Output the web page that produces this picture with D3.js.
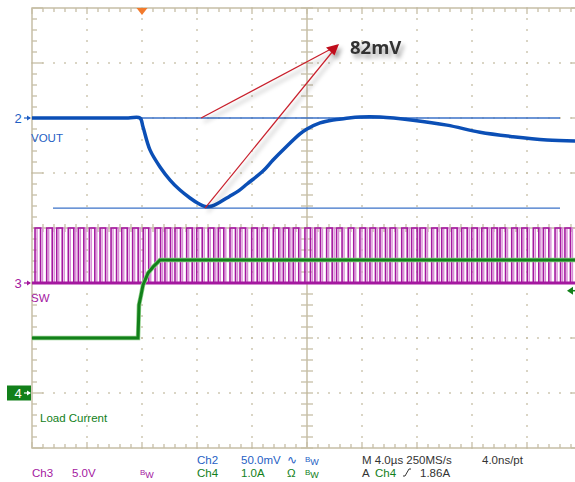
<!DOCTYPE html>
<html>
<head>
<meta charset="utf-8">
<script src="https://cdn.jsdelivr.net/npm/d3@7"></script>
<style>
  body { margin: 0; background: #fff; }
  svg { display: block; font-family: "Liberation Sans", Arial, sans-serif; }
</style>
</head>
<body>
<svg id="scope" width="575" height="482"></svg>
<script>
// time in us relative to trigger, 4 us/div
var voutT  = [-8, -4, -1, -0.15, 0.07, 0.58, 1.31, 2.04, 2.76, 3.49, 4.07, 4.58, 5.09, 5.6, 6.33, 7.05, 7.64, 8.8, 9.53, 10.4, 11.49, 12.0, 12.95, 13.89, 14.76, 15.85, 17.31, 19.71, 22.18, 24.58, 26.98, 29.45, 31.5];
var voutMv = [0, 0, 0, 0, -8, -29, -44.5, -56.4, -65.5, -72.7, -77.5, -80.5, -80, -77, -71.5, -66, -60, -48.2, -38.2, -27.3, -14.5, -10, -4.5, -1.8, -0.5, 0.9, 0.9, -2, -6.5, -13, -17, -20, -21];

var loadT = [-8, -0.29, -0.25, -0.22, -0.07, 0.07, 0.44, 0.8, 1.31, 31.5];
var loadA = [1.0, 1.0, 1.33, 1.6, 1.78, 1.96, 2.18, 2.29, 2.42, 2.42];

// switch node rising edges (us), on-time and levels
var swRise = [-7.78, -6.93, -6.2, -5.36, -4.63, -3.83, -3.05, -2.25, -1.47, -0.68, 0.09, 0.95, 1.67, 2.4, 3.25, 3.98, 4.82, 5.55, 6.4, 7.13, 7.98, 8.71, 9.55, 10.28, 11.0, 11.85, 12.58, 13.43, 14.15, 15.0, 15.85, 16.58, 17.31, 18.04, 18.89, 19.61, 20.22, 21.07, 21.8, 22.52, 23.25, 23.98, 24.71, 25.43, 26.04, 26.89, 27.62, 28.46, 29.19, 30.04, 30.76];
var swOn = 0.4;
var swHigh = 5.0;

// cursors on Ch2 (mV)
var cursorMv = [0, -82];
var annotation = "82mV";

var bottomRow1 = [
  {x: 197, t: "Ch2", c: "blue"}, {x: 241, t: "50.0mV", c: "blue"}, {x: 287, t: "∿", c: "blue"},
  {x: 305, t: "Bw", c: "blue"}, {x: 362, t: "M 4.0µs 250MS/s", c: "dark"}, {x: 482, t: "4.0ns/pt", c: "dark"}
];
var bottomRow2 = [
  {x: 32, t: "Ch3", c: "mag"}, {x: 72, t: "5.0V", c: "mag"}, {x: 140, t: "Bw", c: "mag"},
  {x: 197, t: "Ch4", c: "green"}, {x: 241, t: "1.0A", c: "green"}, {x: 287, t: "Ω", c: "green"},
  {x: 305, t: "Bw", c: "green"}, {x: 362, t: "A", c: "dark"}, {x: 375, t: "Ch4", c: "green"},
  {x: 403, t: "edge", c: "dark"}, {x: 420, t: "1.86A", c: "dark"}
];

var colors = {blue: "#1f5fc4", mag: "#a4189f", green: "#12801a", dark: "#333"};
var gridCol = "#c6bea6";

var svg = d3.select("#scope");
var pLeft = 32, pTop = 8, divPx = 55;

var x = d3.scaleLinear().domain([-8, 32]).range([pLeft, pLeft + 10 * divPx]);
var yDiv = d3.scaleLinear().domain([-4, 4]).range([pTop + 8 * divPx, pTop]);
function yCh2(v) { return yDiv(2 + v / 50); }
function yCh3(v) { return yDiv(-1 + v / 5); }
function yCh4(v) { return yDiv(-3 + v / 1); }

var defs = svg.append("defs");
var f = defs.append("filter").attr("id", "shadow").attr("x", "-20%").attr("y", "-20%").attr("width", "160%").attr("height", "160%");
f.append("feDropShadow").attr("dx", 3).attr("dy", 4).attr("stdDeviation", 2).attr("flood-color", "#000").attr("flood-opacity", 0.35);
defs.append("clipPath").attr("id", "plotclip").append("rect")
  .attr("x", pLeft).attr("y", pTop).attr("width", 10 * divPx).attr("height", 8 * divPx);

// ----- graticule -----
var g = svg.append("g");
var minorX = d3.range(0, 50 + 1).map(function (i) { return pLeft + i * divPx / 5; });
var minorY = d3.range(0, 40 + 1).map(function (i) { return pTop + i * divPx / 5; });

// dotted grid lines
[1, 2, 3, 4, 6, 7, 8, 9].forEach(function (k) {
  var gx = pLeft + k * divPx;
  g.selectAll(null).data(minorY).enter().append("rect")
    .attr("x", gx - 0.8).attr("y", function (d) { return d - 0.8; })
    .attr("width", 1.6).attr("height", 1.6).attr("fill", gridCol);
});
[1, 2, 3, 5, 6, 7].forEach(function (k) {
  var gy = pTop + k * divPx;
  g.selectAll(null).data(minorX).enter().append("rect")
    .attr("x", function (d) { return d - 0.8; }).attr("y", gy - 0.8)
    .attr("width", 1.6).attr("height", 1.6).attr("fill", gridCol);
});

// frame
var pBottom = pTop + 8 * divPx, pRight = pLeft + 10 * divPx;
g.append("rect").attr("x", pLeft).attr("y", pTop).attr("width", 10 * divPx).attr("height", 8 * divPx)
  .attr("fill", "none").attr("stroke", gridCol).attr("stroke-width", 1.5);
var cx = pLeft + 5 * divPx, cy = pTop + 4 * divPx;
g.append("line").attr("x1", cx).attr("x2", cx).attr("y1", pTop).attr("y2", pBottom).attr("stroke", gridCol).attr("stroke-width", 1.5);
g.append("line").attr("x1", pLeft).attr("x2", pRight).attr("y1", cy).attr("y2", cy).attr("stroke", gridCol).attr("stroke-width", 1.5);

function isMajor(i) { return i % 5 === 0; }
// ticks on top / bottom / centre lines
minorX.forEach(function (d, i) {
  var len = isMajor(i) ? 6 : 4;
  g.append("line").attr("x1", d).attr("x2", d).attr("y1", pTop).attr("y2", pTop + len).attr("stroke", gridCol).attr("stroke-width", 1.3);
  g.append("line").attr("x1", d).attr("x2", d).attr("y1", pBottom).attr("y2", pBottom - len).attr("stroke", gridCol).attr("stroke-width", 1.3);
  g.append("line").attr("x1", d).attr("x2", d).attr("y1", cy - 4).attr("y2", cy + 4).attr("stroke", gridCol).attr("stroke-width", 1.3);
});
minorY.forEach(function (d, i) {
  var len = isMajor(i) ? 11 : 5;
  g.append("line").attr("y1", d).attr("y2", d).attr("x1", pLeft).attr("x2", pLeft + len).attr("stroke", gridCol).attr("stroke-width", 1.3);
  g.append("line").attr("y1", d).attr("y2", d).attr("x1", pRight).attr("x2", pRight - len).attr("stroke", gridCol).attr("stroke-width", 1.3);
  g.append("line").attr("y1", d).attr("y2", d).attr("x1", cx - 6).attr("x2", cx + 6).attr("stroke", gridCol).attr("stroke-width", 1.3);
});

// ----- cursors -----
svg.append("line").attr("x1", pLeft).attr("x2", 560).attr("y1", yCh2(cursorMv[0])).attr("y2", yCh2(cursorMv[0]))
  .attr("stroke", "#3b72c8").attr("stroke-width", 1.3);
svg.append("line").attr("x1", 53).attr("x2", 560).attr("y1", yCh2(cursorMv[1])).attr("y2", yCh2(cursorMv[1]))
  .attr("stroke", "#3b72c8").attr("stroke-width", 1.3);

// ----- traces -----
var traces = svg.append("g").attr("clip-path", "url(#plotclip)");

var swPts = [[-8, 0]];
swRise.forEach(function (r) {
  swPts.push([r, 0], [r, swHigh], [r + swOn, swHigh], [r + swOn, 0]);
});
swPts.push([32, 0]);
var swLine = d3.line().x(function (d) { return x(d[0]); }).y(function (d) { return yCh3(d[1]); });
traces.append("path").attr("d", swLine(swPts)).attr("transform", "translate(2,0)")
  .attr("fill", "none").attr("stroke", "#d98cd6").attr("stroke-width", 1.4);
traces.append("path").attr("d", swLine(swPts))
  .attr("fill", "none").attr("stroke", colors.mag).attr("stroke-width", 1.6);
traces.append("line").attr("x1", pLeft).attr("x2", pRight).attr("y1", yCh3(0)).attr("y2", yCh3(0))
  .attr("stroke", colors.mag).attr("stroke-width", 3);

var loadLine = d3.line().x(function (d, i) { return x(loadT[i]); }).y(function (d) { return yCh4(d); });
traces.append("path").attr("d", loadLine(loadA)).attr("fill", "none")
  .attr("stroke", "#8fcf8a").attr("stroke-width", 4.5);
traces.append("path").attr("d", loadLine(loadA)).attr("fill", "none")
  .attr("stroke", colors.green).attr("stroke-width", 3);

var voutLine = d3.line().curve(d3.curveCatmullRom.alpha(0.5)).x(function (d, i) { return x(voutT[i]); }).y(function (d) { return yCh2(d); });
traces.append("path").attr("d", voutLine(voutMv)).attr("fill", "none")
  .attr("stroke", "#0b4fb6").attr("stroke-width", 3.5).attr("stroke-linejoin", "round");

// ----- markers / labels -----
svg.append("path").attr("d", "M" + (x(0) - 5.5) + "," + pTop + "L" + (x(0) + 5.5) + "," + pTop + "L" + x(0) + "," + (pTop + 7) + "Z")
  .attr("fill", "#f27a2c");

function levelMarker(yy, label, col, boxed) {
  if (boxed) {
    svg.append("rect").attr("x", 7).attr("y", yy - 7.5).attr("width", 24).attr("height", 15).attr("fill", col);
  }
  var tc = boxed ? "#fff" : col;
  svg.append("text").attr("x", 18).attr("y", yy + 4.5).attr("text-anchor", "middle")
    .attr("font-size", 13).attr("fill", tc).text(label);
  svg.append("line").attr("x1", 24).attr("x2", 30).attr("y1", yy).attr("y2", yy).attr("stroke", tc).attr("stroke-width", 1.2);
  svg.append("path").attr("d", "M31," + yy + "L27," + (yy - 2.5) + "L27," + (yy + 2.5) + "Z").attr("fill", tc);
}
levelMarker(yCh2(0), "2", colors.blue, false);
levelMarker(yCh3(0), "3", colors.mag, false);
levelMarker(yCh4(0), "4", colors.green, true);

svg.append("text").attr("x", 31).attr("y", 142).attr("font-size", 11.5).attr("fill", colors.blue).text("VOUT");
svg.append("text").attr("x", 31).attr("y", 302).attr("font-size", 11.5).attr("fill", colors.mag).text("SW");
svg.append("text").attr("x", 40).attr("y", 422).attr("font-size", 11.5).attr("fill", colors.green).text("Load Current");

// trigger level arrow (right edge)
var trigY = yCh4(1.86);
svg.append("path").attr("d", "M567," + trigY + "L573," + (trigY - 4) + "L573," + (trigY + 4) + "Z").attr("fill", colors.green);
svg.append("line").attr("x1", 570).attr("x2", 575).attr("y1", trigY).attr("y2", trigY).attr("stroke", colors.green).attr("stroke-width", 1.5);

// ----- 82mV annotation -----
var tip = [339, 44];
var ann = svg.append("g").attr("filter", "url(#shadow)");
ann.append("line").attr("x1", x(4.3)).attr("y1", yCh2(cursorMv[0])).attr("x2", 331).attr("y2", 49)
  .attr("stroke", "#c8202c").attr("stroke-width", 1.2);
ann.append("line").attr("x1", x(4.58)).attr("y1", yCh2(cursorMv[1])).attr("x2", 333).attr("y2", 51)
  .attr("stroke", "#c8202c").attr("stroke-width", 1.2);
ann.append("path").attr("d", "M" + tip[0] + "," + tip[1] + "L326,47.5L334.5,55.5Z").attr("fill", "#c0101c");
svg.append("text").attr("x", 350).attr("y", 54).attr("font-family", "'Open Sans', sans-serif")
  .attr("font-weight", "bold").attr("font-size", 18.5).attr("fill", "#333")
  .attr("filter", "url(#shadow)").text(annotation);

// ----- bottom readout -----
function row(items, yy) {
  items.forEach(function (d) {
    if (d.t === "edge") {
      // rising-edge trigger slope symbol
      svg.append("path").attr("d", "M" + d.x + "," + (yy - 1) + "h2l4,-7h2")
        .attr("fill", "none").attr("stroke", colors[d.c]).attr("stroke-width", 1);
      return;
    }
    var t = svg.append("text").attr("x", d.x).attr("y", yy).attr("font-size", 11.5).attr("fill", colors[d.c]);
    if (d.t === "Bw") {
      t.append("tspan").attr("font-size", 8).attr("dy", -2).text("B");
      t.append("tspan").attr("font-size", 9).attr("dy", 3).text("W");
    } else {
      t.text(d.t);
    }
  });
}
row(bottomRow1, 464);
row(bottomRow2, 477);
</script>
</body>
</html>
